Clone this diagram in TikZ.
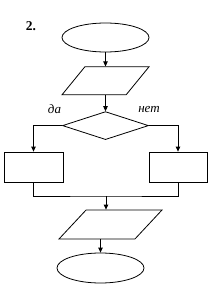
\documentclass[tikz,border=0pt]{standalone}
\usepackage{fontspec}
\setmainfont{Liberation Serif}
\usepackage{tikz}
\usetikzlibrary{positioning,arrows.meta,shapes.geometric}

\begin{document}
\begin{tikzpicture}[x=1pt, y=1pt,
  blk/.style={draw, line width=0.8pt, inner sep=1pt},
  term/.style={blk, ellipse, minimum width=87pt, minimum height=29pt},
  io/.style={blk, trapezium, trapezium left angle=61, trapezium right angle=119, trapezium stretches=true, minimum height=28pt},
  proc/.style={blk, rectangle, minimum width=58pt, minimum height=30pt},
  cond/.style={blk, diamond, minimum width=86pt, minimum height=28pt},
  lab/.style={font=\itshape\fontsize{13}{14}\selectfont},
  arr/.style={-{Triangle[length=5pt,width=4.5pt]}, line width=0.8pt},
  ln/.style={line width=0.8pt}]
\useasboundingbox (0,0) rectangle (217,-292);
\node[font=\bfseries\fontsize{13.5}{15}\selectfont] (num) at (31,-26) {2.};
\node[term] (start) at (105.5,-37.5) {};
\node[io, minimum width=87pt, below=14pt of start] (input) {};
\node[cond, below=16pt of input] (check) {};
\node[proc, minimum width=59pt] (yes) at (33.5,-167) {};
\node[proc] (no) at (178,-167) {};
\coordinate (join) at (106,-196);
\node[io, minimum width=103pt, minimum height=29pt] (output) at (110.5,-224.5) {};
\node[term, minimum height=30pt] (stop) at (100.5,-268) {};
\node[lab] (da) at (54.5,-109) {да};
\node[lab] (net) at (149,-109) {нет};
\draw[arr] (start) -- (input); \draw[arr] (input) -- (check);
\draw[arr] (check.west) -| (yes.north); \draw[arr] (check.east) -| (no.north);
\draw[ln] (yes.south) |- (join) -| (no.south);
\draw[arr] (join) -- (join |- output.north);
\draw[arr] (stop.north |- output.south) -- (stop.north);
\end{tikzpicture}
\end{document}
